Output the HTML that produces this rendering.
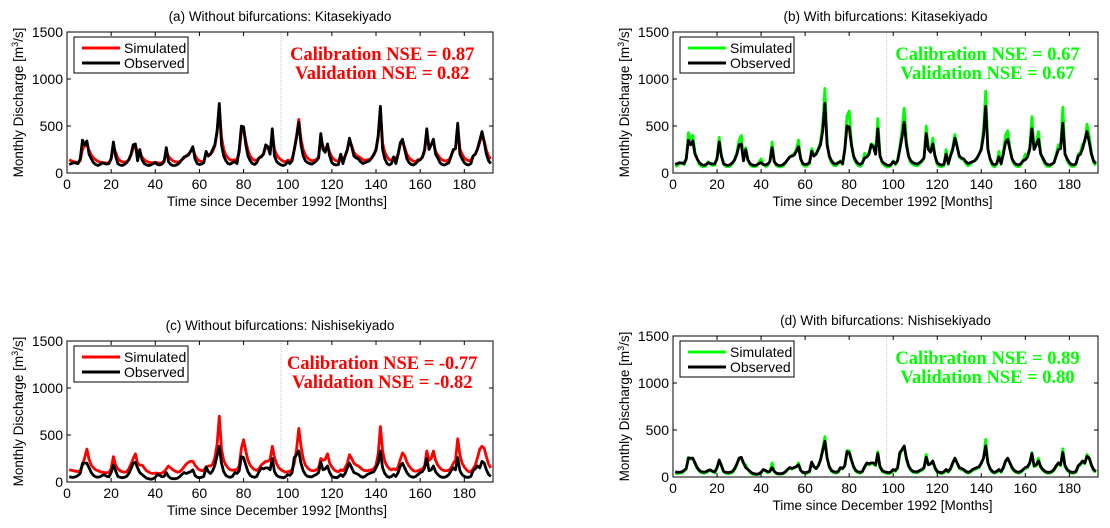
<!DOCTYPE html>
<html><head><meta charset="utf-8"><style>
body{margin:0;background:#fff;}
svg{display:block;font-family:"Liberation Sans",sans-serif;}
</style></head><body>
<svg id="fig" width="1110" height="528" viewBox="0 0 1110 528" xmlns="http://www.w3.org/2000/svg"></svg>
<script>
const xTicks=[0,20,40,60,80,100,120,140,160,180];
const yTicks=[0,500,1000,1500];
const obsKita=[90,100,110,105,100,150,350,300,340,200,150,110,90,80,90,110,100,95,100,150,330,180,100,85,80,90,110,140,200,300,310,130,250,140,100,85,80,85,100,110,90,85,95,120,270,120,90,80,80,90,110,140,170,180,190,230,280,150,100,90,95,110,230,180,200,250,300,450,740,300,180,130,100,95,110,120,100,250,500,490,300,180,130,100,90,110,160,170,200,300,280,200,470,180,120,100,85,80,90,120,100,130,250,380,540,300,180,130,110,100,95,110,130,160,420,250,220,310,180,110,90,85,90,200,100,180,250,370,280,180,160,150,120,100,110,120,130,160,200,250,400,710,250,150,100,85,100,170,100,200,320,360,250,150,110,90,85,100,130,140,170,250,470,250,300,360,200,160,110,90,85,95,110,180,250,260,530,200,150,110,90,85,100,180,200,260,350,440,330,200,130,100];
const simA=[140,130,120,115,110,130,250,290,300,240,190,160,140,125,115,110,110,105,110,150,280,220,160,130,120,115,120,140,190,260,290,220,210,170,140,125,115,110,110,115,110,105,110,130,230,180,150,130,120,115,120,140,160,180,200,230,260,190,150,130,120,125,200,190,200,230,290,430,700,380,250,190,160,140,135,140,140,220,440,460,340,240,180,150,135,135,160,180,200,270,270,230,420,250,190,160,140,125,120,135,130,150,250,400,570,360,250,190,160,140,130,135,145,170,370,280,240,290,220,170,145,130,125,190,140,180,240,340,290,220,190,175,160,140,135,140,145,160,190,240,380,680,320,220,170,140,135,170,150,200,300,340,270,200,160,140,125,125,140,145,165,230,430,280,300,330,230,190,160,140,130,130,140,180,240,260,500,260,200,160,140,130,135,180,200,250,330,400,340,240,180,150];
const simB=[70,80,100,110,90,140,430,360,400,220,150,90,70,65,75,120,95,80,85,160,380,190,90,70,65,75,100,150,220,350,400,140,270,140,85,70,65,75,110,150,90,70,80,130,330,120,75,65,65,75,100,140,170,190,200,250,350,150,85,70,80,100,260,190,210,260,330,520,900,330,170,110,80,75,100,130,90,250,610,660,330,170,110,80,70,95,210,170,220,310,300,210,580,190,110,80,65,65,80,130,90,130,280,460,690,340,170,110,90,80,75,100,120,160,500,260,230,370,180,90,70,65,80,250,90,190,270,410,290,170,150,140,100,75,95,120,130,150,200,270,460,870,270,140,80,65,90,230,90,220,400,450,270,140,90,70,65,85,130,200,190,270,600,270,330,440,210,140,90,70,70,90,110,200,300,270,700,210,130,90,70,70,90,200,220,310,330,520,400,220,110,80];
const obsNishi=[55,50,50,55,70,90,200,200,200,150,100,70,55,50,55,70,75,60,55,100,180,120,60,50,45,50,60,90,140,200,210,150,100,80,60,40,35,30,35,50,80,70,55,60,100,60,40,35,35,40,55,80,100,90,100,110,130,70,50,45,50,60,160,110,90,120,180,280,380,200,110,70,55,50,60,100,90,120,270,260,180,110,70,55,50,60,110,150,140,150,150,130,250,110,70,55,50,45,55,80,70,100,260,290,330,200,120,80,60,55,55,70,80,100,210,130,140,170,100,60,50,45,55,80,60,90,150,200,150,100,90,80,60,50,60,80,90,100,110,150,200,330,150,90,60,50,60,80,60,100,170,200,150,100,70,55,50,60,80,100,110,150,250,120,130,170,110,80,60,50,50,60,80,120,150,130,260,120,80,60,50,50,60,120,140,170,150,220,200,130,80,60];
const simC=[130,125,120,115,110,120,180,260,350,240,180,150,130,120,110,105,100,100,100,140,270,180,140,120,110,105,110,140,190,250,300,200,180,180,150,120,105,95,90,95,95,90,95,110,140,170,150,130,115,105,110,130,160,190,210,220,220,180,150,130,120,125,160,170,170,190,260,400,700,350,230,180,150,130,125,130,130,170,360,450,330,230,180,150,130,125,140,180,200,220,220,240,380,260,190,150,130,115,105,110,115,130,200,350,570,380,250,180,150,130,120,120,130,150,250,230,240,300,200,160,130,115,110,130,120,150,200,290,250,200,180,170,150,130,120,120,125,130,140,180,300,590,330,220,170,140,130,140,130,160,240,310,280,210,170,140,120,115,120,130,140,170,330,230,250,330,230,180,150,130,120,120,125,150,200,230,460,290,200,160,130,110,110,140,180,260,350,380,360,270,190,150];
const simD=[40,35,40,45,60,80,210,190,200,140,90,60,45,40,45,60,70,55,45,90,180,130,55,40,35,40,50,80,130,200,200,140,130,80,50,30,25,25,30,45,75,65,45,55,150,60,35,30,30,35,50,75,95,85,95,110,150,70,45,35,40,55,150,110,90,120,190,300,430,210,100,60,45,40,50,90,85,120,280,280,190,100,60,45,40,55,100,140,130,140,140,120,270,100,60,45,40,35,45,70,60,90,230,290,330,190,110,70,50,45,45,60,70,90,240,130,140,160,90,50,40,35,45,70,50,80,140,200,150,90,80,70,50,40,50,70,80,90,100,140,200,400,150,80,50,40,50,70,50,90,160,200,150,90,60,45,40,50,70,90,100,140,260,110,120,200,100,70,50,40,40,50,70,110,140,120,300,110,70,50,40,40,50,110,130,160,140,240,200,120,70,50];
const calNSE=["0.87","0.67","-0.77","0.89"];
const valNSE=["0.82","0.67","-0.82","0.80"];
const titles=["(a) Without bifurcations: Kitasekiyado","(b) With bifurcations: Kitasekiyado","(c) Without bifurcations: Nishisekiyado","(d) With bifurcations: Nishisekiyado"];

const panels=[
 {id:'a',L:67,R:493,T:32,B:173,sim:simA,obs:obsKita,col:'#ff0000'},
 {id:'b',L:673,R:1098,T:32,B:173,sim:simB,obs:obsKita,col:'#00ff00'},
 {id:'c',L:67,R:493,T:341,B:482,sim:simC,obs:obsNishi,col:'#ff0000'},
 {id:'d',L:673,R:1098,T:336,B:477,sim:simD,obs:obsNishi,col:'#00ff00'}
];
const NS='http://www.w3.org/2000/svg';
const svg=document.getElementById('fig');
function mk(tag,attrs,parent){const e=document.createElementNS(NS,tag);for(const k in attrs)e.setAttribute(k,attrs[k]);(parent||svg).appendChild(e);return e;}
panels.forEach((p,pi)=>{
 const g=mk('g',{});
 
 
 const xs=v=>p.L+(v/193)*(p.R-p.L);
 const ys=v=>p.B-(v/1500)*(p.B-p.T);
 const cx=(p.L+p.R)/2;
 const t=mk('text',{x:cx,y:p.T-11,'text-anchor':'middle','font-size':'13.5'},g);t.textContent=titles[pi];
 
 
 const vl=mk('line',{x1:xs(97),x2:xs(97),y1:p.T,y2:p.B,stroke:'#c8c8c8','stroke-width':'1','stroke-dasharray':'1,1'},g);
 
 
 const path=arr=>arr.map((v,i)=>(i?'L':'M')+xs(i+1).toFixed(1)+','+ys(v).toFixed(1)).join('');
 const sp=mk('path',{d:path(p.sim),fill:'none',stroke:p.col,'stroke-width':'2.8','stroke-linejoin':'round'},g);
 
 
 const op=mk('path',{d:path(p.obs),fill:'none',stroke:'#000','stroke-width':'2.8','stroke-linejoin':'round'},g);
 
 
 const box=mk('rect',{x:p.L,y:p.T,width:p.R-p.L,height:p.B-p.T,fill:'none',stroke:'#000','stroke-width':'1'},g);
 
 
 xTicks.forEach(v=>{
  mk('line',{x1:xs(v),x2:xs(v),y1:p.B,y2:p.B-4,stroke:'#000'},g);
  mk('line',{x1:xs(v),x2:xs(v),y1:p.T,y2:p.T+4,stroke:'#000'},g);
  const tl=mk('text',{x:xs(v),y:p.B+16,'text-anchor':'middle','font-size':'14'},g);tl.textContent=v;
  
  
 });
 yTicks.forEach(v=>{
  mk('line',{x1:p.L,x2:p.L+4,y1:ys(v),y2:ys(v),stroke:'#000'},g);
  mk('line',{x1:p.R,x2:p.R-4,y1:ys(v),y2:ys(v),stroke:'#000'},g);
  const tl=mk('text',{x:p.L-4,y:ys(v)+5,'text-anchor':'end','font-size':'14'},g);tl.textContent=v;
  
  
 });
 const xl=mk('text',{x:(p.L+p.R)/2-3,y:p.B+33,'text-anchor':'middle','font-size':'13.5'},g);xl.textContent='Time since December 1992 [Months]';
 
 
 const yl=mk('text',{transform:`translate(${p.L-44},${(p.T+p.B)/2}) rotate(-90)`,'text-anchor':'middle','font-size':'13.5'},g);
 yl.innerHTML='Monthly Discharge [m<tspan dy="-5" font-size="9">3</tspan><tspan dy="5">/s]</tspan>';
 
 
 const lg=mk('g',{},g);
 
 
 mk('rect',{x:p.L+7,y:p.T+5,width:114,height:36,fill:'#fff',stroke:'#000','stroke-width':'1'},lg);
 mk('line',{x1:p.L+15,x2:p.L+53,y1:p.T+16,y2:p.T+16,stroke:p.col,'stroke-width':'3'},lg);
 mk('line',{x1:p.L+15,x2:p.L+53,y1:p.T+31,y2:p.T+31,stroke:'#000','stroke-width':'3'},lg);
 const l1=mk('text',{x:p.L+57,y:p.T+21,'font-size':'14'},lg);l1.textContent='Simulated';
 
 
 const l2=mk('text',{x:p.L+57,y:p.T+36,'font-size':'14'},lg);l2.textContent='Observed';
 
 
 const nx=p.L+(p.R-p.L)*0.74;
 const n1=mk('text',{x:nx,y:p.T+28,'text-anchor':'middle','font-size':'18.5','font-weight':'bold','font-family':'Liberation Serif,serif',fill:p.col},g);
 n1.textContent='Calibration NSE = '+calNSE[pi];
 
 
 const n2=mk('text',{x:nx,y:p.T+47,'text-anchor':'middle','font-size':'18.5','font-weight':'bold','font-family':'Liberation Serif,serif',fill:p.col},g);
 n2.textContent='Validation NSE = '+valNSE[pi];
 
 
});
</script>
</body></html>
